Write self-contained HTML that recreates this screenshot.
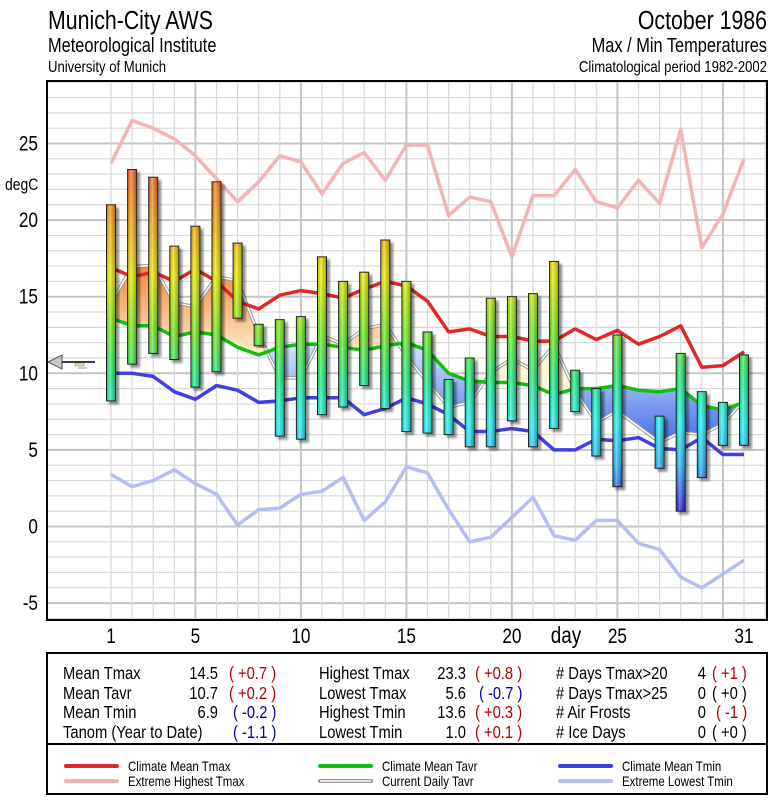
<!DOCTYPE html>
<html><head><meta charset="utf-8"><style>
html,body{margin:0;padding:0;background:#fff;}
svg{display:block;font-family:"Liberation Sans",sans-serif;}
</style></head><body>
<svg id="chart" width="775" height="800" viewBox="0 0 775 800" xmlns="http://www.w3.org/2000/svg">
<defs>
<linearGradient id="barGrad" gradientUnits="userSpaceOnUse" x1="0" y1="159" x2="0" y2="511">
<stop offset="0" stop-color="#ff5a30"/>
<stop offset="0.18" stop-color="#f8a810"/>
<stop offset="0.33" stop-color="#f0f000"/>
<stop offset="0.5" stop-color="#70f020"/>
<stop offset="0.62" stop-color="#20f080"/>
<stop offset="0.75" stop-color="#20f8f8"/>
<stop offset="0.87" stop-color="#30b8f8"/>
<stop offset="1" stop-color="#3020e8"/>
</linearGradient>
<linearGradient id="cyl" x1="0" y1="0" x2="1" y2="0">
<stop offset="0" stop-color="#000" stop-opacity="0.12"/>
<stop offset="0.35" stop-color="#fff" stop-opacity="0.3"/>
<stop offset="1" stop-color="#000" stop-opacity="0.25"/>
</linearGradient>
<linearGradient id="warmGrad" gradientUnits="userSpaceOnUse" x1="0" y1="260" x2="0" y2="360">
<stop offset="0" stop-color="#f08030"/>
<stop offset="1" stop-color="#fff4d8"/>
</linearGradient>
<linearGradient id="coldGrad" gradientUnits="userSpaceOnUse" x1="0" y1="340" x2="0" y2="440">
<stop offset="0" stop-color="#d8ecff"/>
<stop offset="1" stop-color="#4a70e8"/>
</linearGradient>
<filter id="shadow" x="-50%" y="-10%" width="200%" height="120%">
<feDropShadow dx="3" dy="3" stdDeviation="1.2" flood-color="#000" flood-opacity="0.45"/>
</filter>
<clipPath id="plotClip"><rect x="47" y="81" width="720" height="539"/></clipPath>
</defs>

<g>
<text transform="translate(48,29) scale(0.82,1)" font-size="26">Munich-City AWS</text>
<text transform="translate(48,52) scale(0.82,1)" font-size="20">Meteorological Institute</text>
<text transform="translate(48,72) scale(0.82,1)" font-size="16">University of Munich</text>
<text transform="translate(767,29) scale(0.82,1)" font-size="26" text-anchor="end">October 1986</text>
<text transform="translate(767,52) scale(0.82,1)" font-size="20" text-anchor="end">Max / Min Temperatures</text>
<text transform="translate(767,72) scale(0.82,1)" font-size="16" text-anchor="end">Climatological period 1982-2002</text>
</g>

<g id="grid"></g>
<g id="marks" clip-path="url(#plotClip)"></g>
<rect x="47" y="81" width="720" height="539" fill="none" stroke="#000" stroke-width="2"/>
<g id="yaxis">
<text transform="translate(5,190) scale(0.82,1)" font-size="17">degC</text>
</g>
<g id="xaxis">
<text transform="translate(566,643) scale(0.82,1)" font-size="23" text-anchor="middle">day</text>
</g>

<g>
<polygon points="48,362 62,355 62,369" fill="#c8c8c8" stroke="#555" stroke-width="1"/>
<line x1="62" y1="362" x2="95" y2="362" stroke="#000" stroke-width="1.5"/>
<rect x="75" y="363" width="9" height="3" fill="#f0e0a0" stroke="#777" stroke-width="0.5"/>
<rect x="78" y="367" width="9" height="2" fill="#ccc"/>
</g>

<g>
<rect x="47" y="653" width="720" height="141" fill="#fff" stroke="#000" stroke-width="2"/>
<line x1="47" y1="744" x2="767" y2="744" stroke="#000" stroke-width="2"/>
<g font-size="18">
<text transform="translate(63,679) scale(0.82,1)">Mean Tmax</text>
<text transform="translate(63,699) scale(0.82,1)">Mean Tavr</text>
<text transform="translate(63,718) scale(0.82,1)">Mean Tmin</text>
<text transform="translate(63,738) scale(0.82,1)">Tanom (Year to Date)</text>
<text transform="translate(218,679) scale(0.82,1)" text-anchor="end">14.5</text>
<text transform="translate(218,699) scale(0.82,1)" text-anchor="end">10.7</text>
<text transform="translate(218,718) scale(0.82,1)" text-anchor="end">6.9</text>
<text transform="translate(229,679) scale(0.82,1)" fill="#b00000">( +0.7 )</text>
<text transform="translate(229,699) scale(0.82,1)" fill="#b00000">( +0.2 )</text>
<text transform="translate(233,718) scale(0.82,1)" fill="#0000b0">( -0.2 )</text>
<text transform="translate(233,738) scale(0.82,1)" fill="#0000b0">( -1.1 )</text>

<text transform="translate(319,679) scale(0.82,1)">Highest Tmax</text>
<text transform="translate(319,699) scale(0.82,1)">Lowest Tmax</text>
<text transform="translate(319,718) scale(0.82,1)">Highest Tmin</text>
<text transform="translate(319,738) scale(0.82,1)">Lowest Tmin</text>
<text transform="translate(466,679) scale(0.82,1)" text-anchor="end">23.3</text>
<text transform="translate(466,699) scale(0.82,1)" text-anchor="end">5.6</text>
<text transform="translate(466,718) scale(0.82,1)" text-anchor="end">13.6</text>
<text transform="translate(466,738) scale(0.82,1)" text-anchor="end">1.0</text>
<text transform="translate(475,679) scale(0.82,1)" fill="#b00000">( +0.8 )</text>
<text transform="translate(479,699) scale(0.82,1)" fill="#0000b0">( -0.7 )</text>
<text transform="translate(475,718) scale(0.82,1)" fill="#b00000">( +0.3 )</text>
<text transform="translate(475,738) scale(0.82,1)" fill="#b00000">( +0.1 )</text>

<text transform="translate(556,679) scale(0.82,1)"># Days Tmax&gt;20</text>
<text transform="translate(556,699) scale(0.82,1)"># Days Tmax&gt;25</text>
<text transform="translate(556,718) scale(0.82,1)"># Air Frosts</text>
<text transform="translate(556,738) scale(0.82,1)"># Ice Days</text>
<text transform="translate(706,679) scale(0.82,1)" text-anchor="end">4</text>
<text transform="translate(706,699) scale(0.82,1)" text-anchor="end">0</text>
<text transform="translate(706,718) scale(0.82,1)" text-anchor="end">0</text>
<text transform="translate(706,738) scale(0.82,1)" text-anchor="end">0</text>
<text transform="translate(712,679) scale(0.82,1)" fill="#b00000">( +1 )</text>
<text transform="translate(712,699) scale(0.82,1)">( +0 )</text>
<text transform="translate(716,718) scale(0.82,1)" fill="#b00000">( -1 )</text>
<text transform="translate(712,738) scale(0.82,1)">( +0 )</text>
</g>
</g>

<g font-size="14">
<g>
<line x1="66" y1="766" x2="117" y2="766" stroke="#e02828" stroke-width="4" stroke-linecap="round"/>
<text transform="translate(128,771) scale(0.82,1)">Climate Mean Tmax</text></g>
<g>
<line x1="66" y1="781" x2="117" y2="781" stroke="#f0b0b0" stroke-width="4" stroke-linecap="round"/>
<text transform="translate(128,786) scale(0.82,1)">Extreme Highest Tmax</text></g>
<g>
<line x1="320" y1="766" x2="371" y2="766" stroke="#10c010" stroke-width="4" stroke-linecap="round"/>
<text transform="translate(382,771) scale(0.82,1)">Climate Mean Tavr</text></g>
<g>
<line x1="320" y1="781" x2="371" y2="781" stroke="#999" stroke-width="4" stroke-linecap="round"/>
<line x1="320" y1="781" x2="371" y2="781" stroke="#fff" stroke-width="1.5"/>
<text transform="translate(382,786) scale(0.82,1)">Current Daily Tavr</text></g>
<g>
<line x1="560" y1="766" x2="611" y2="766" stroke="#4040e0" stroke-width="4" stroke-linecap="round"/>
<text transform="translate(622,771) scale(0.82,1)">Climate Mean Tmin</text></g>
<g>
<line x1="560" y1="781" x2="611" y2="781" stroke="#b4bef4" stroke-width="4" stroke-linecap="round"/>
<text transform="translate(622,786) scale(0.82,1)">Extreme Lowest Tmin</text></g>
</g>

<script>
var days = [1,2,3,4,5,6,7,8,9,10,11,12,13,14,15,16,17,18,19,20,21,22,23,24,25,26,27,28,29,30,31];
var tmax = [21.0,23.3,22.8,18.3,19.6,22.5,18.5,13.2,13.5,13.7,17.6,16.0,16.6,18.7,16.0,12.7,9.6,11.0,14.9,15.0,15.2,17.3,10.2,9.0,12.5,null,7.2,11.3,8.8,8.1,11.2];
var tmin = [8.2,10.6,11.3,10.9,9.1,10.1,13.6,11.8,5.9,5.7,7.3,7.8,9.2,7.7,6.2,6.1,6.0,5.2,5.2,6.9,5.2,6.4,7.5,4.6,2.6,null,3.8,1.0,3.2,5.3,5.3];
var climTmax = [16.9,16.3,16.6,16.0,16.8,16.0,14.7,14.2,15.1,15.4,15.2,14.9,15.5,16.0,15.7,14.7,12.7,12.9,12.4,12.4,12.1,12.1,12.9,12.2,12.8,11.9,12.4,13.1,10.4,10.5,11.4];
var climTavr = [13.6,13.1,13.1,12.4,12.7,12.5,11.7,11.2,11.7,11.9,11.9,11.7,11.5,11.8,12.0,11.5,10.0,9.5,9.4,9.4,9.2,8.6,9.0,9.0,9.2,8.9,8.8,9.0,7.9,7.6,8.1];
var climTmin = [10.0,10.0,9.8,8.8,8.3,9.2,8.9,8.1,8.2,8.4,8.4,8.4,7.3,7.7,8.4,8.0,7.3,6.2,6.2,6.4,6.2,5.0,5.0,5.7,5.6,5.8,5.1,5.0,5.8,4.7,4.7];
var extHighTmax = [23.7,26.5,26.0,25.3,24.2,22.7,21.2,22.5,24.2,23.8,21.7,23.7,24.4,22.6,24.9,24.9,20.3,21.5,21.2,17.6,21.6,21.6,23.3,21.2,20.8,22.6,21.1,25.9,18.2,20.4,24.0];
var extLowTmin = [3.4,2.6,3.0,3.7,2.8,2.1,0.1,1.1,1.2,2.1,2.3,3.2,0.4,1.6,3.9,3.5,1.1,-1.0,-0.7,0.6,1.9,-0.6,-0.9,0.4,0.4,-1.1,-1.5,-3.3,-4.0,-3.1,-2.2];
var yTicks = [25,20,15,10,5,0,-5];
var xTicks = [1,5,10,15,20,25,31];

var NS = 'http://www.w3.org/2000/svg';
function X(d){ return 111 + (d-1)*21.1; }
function Y(v){ return 526.5 - 15.32*v; }
function mk(tag, attrs, parent){
  var e = document.createElementNS(NS, tag);
  for (var k in attrs) e.setAttribute(k, attrs[k]);
  parent.appendChild(e);
  return e;
}
var grid = document.getElementById('grid');
var marks = document.getElementById('marks');
var yaxis = document.getElementById('yaxis');
var xaxis = document.getElementById('xaxis');

for (var v = -6; v <= 29; v++) {
  var yy = Y(v);
  if (yy < 81 || yy > 620) continue;
  var gl = mk('line', {x1:47, x2:767, y1:yy, y2:yy, stroke: v%5===0 ? '#c4c4c4' : '#d8d8d8', 'stroke-width': v%5===0 ? 2 : 1.2}, grid);
  
  
}
for (var d = 1; d <= 32; d++) {
  var xx = X(d);
  if (xx > 767) continue;
  var vl = mk('line', {x1:xx, x2:xx, y1:81, y2:620, stroke: d%5===0 ? '#c4c4c4' : '#d8d8d8', 'stroke-width': d%5===0 ? 2 : 1.2}, grid);
  
  
}

yTicks.forEach(function(t){
  var tx = mk('text', {transform:'translate(38,'+(Y(t)+7)+') scale(0.82,1)', 'font-size':21, 'text-anchor':'end'}, yaxis);
  tx.textContent = String(t);
  
  
});
xTicks.forEach(function(t){
  var tx = mk('text', {transform:'translate('+X(t)+',643) scale(0.82,1)', 'font-size':21, 'text-anchor':'middle'}, xaxis);
  tx.textContent = String(t);
  
  
});

function pts(arr){
  var p = [];
  arr.forEach(function(v,i){ if (v !== null) p.push(X(days[i]).toFixed(1)+','+Y(v).toFixed(1)); });
  return p;
}
var tavr = tmax.map(function(v,i){ return (v===null||tmin[i]===null) ? null : (v+tmin[i])/2; });

var tp = [];
tavr.forEach(function(v,i){ if (v!==null) tp.push([X(days[i]), Y(v)]); });
var cp = climTavr.map(function(v,i){ return [X(days[i]), Y(v)]; });
var areaPts = tp.map(function(p){return p.join(',');}).concat(cp.slice().reverse().map(function(p){return p.join(',');})).join(' ');
var defs = document.querySelector('defs');
var above = mk('clipPath', {id:'aboveClim'}, defs);
mk('polygon', {points: cp.map(function(p){return p.join(',');}).join(' ') + ' ' + X(31)+',0 '+X(1)+',0'}, above);
var below = mk('clipPath', {id:'belowClim'}, defs);
mk('polygon', {points: cp.map(function(p){return p.join(',');}).join(' ') + ' ' + X(31)+',700 '+X(1)+',700'}, below);
var warm = mk('polygon', {points: areaPts, fill:'url(#warmGrad)', 'clip-path':'url(#aboveClim)'}, marks);


var cold = mk('polygon', {points: areaPts, fill:'url(#coldGrad)', 'clip-path':'url(#belowClim)'}, marks);



function line(arr, color, w, name){
  var pl = mk('polyline', {points: pts(arr).join(' '), fill:'none', stroke: color, 'stroke-width': w, 'stroke-linejoin':'round'}, marks);
  
  
  return pl;
}
line(extHighTmax, '#f2b4b4', 3.5, 'extreme-highest-tmax-line');
line(extLowTmin, '#b4bef4', 3.5, 'extreme-lowest-tmin-line');
line(tavr, '#999', 3.5, 'current-daily-tavr-line');
line(tavr, '#fff', 1.5, 'current-daily-tavr-line-inner');
line(climTmax, '#e02828', 3.5, 'climate-mean-tmax-line');
line(climTavr, '#10c010', 3.5, 'climate-mean-tavr-line');
line(climTmin, '#4040e0', 3.5, 'climate-mean-tmin-line');

days.forEach(function(d,i){
  if (tmax[i]===null || tmin[i]===null) return;
  var x = X(d)-4.5, y1 = Y(tmax[i]), y2 = Y(tmin[i]);
  var g = mk('g', {filter:'url(#shadow)'}, marks);
  
  
  mk('rect', {x:x, y:y1, width:9, height:y2-y1, fill:'url(#barGrad)', stroke:'#222', 'stroke-width':1}, g);
  mk('rect', {x:x+0.5, y:y1+0.5, width:8, height:y2-y1-1, fill:'url(#cyl)'}, g);
});
</script>
</svg>
</body></html>
